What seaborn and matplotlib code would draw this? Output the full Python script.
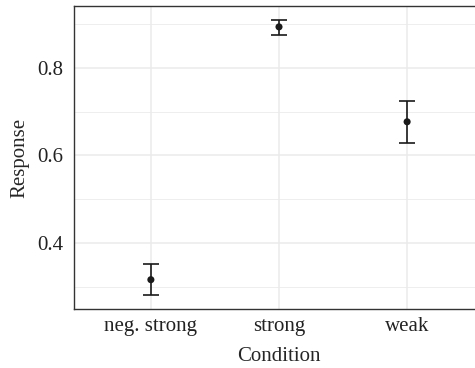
import numpy as np
import pandas as pd
import matplotlib
matplotlib.use("Agg")
import matplotlib.pyplot as plt
import seaborn as sns

# values
conditions = ["neg. strong", "strong", "weak"]
response = [0.316, 0.894, 0.677]
lower = [0.282, 0.876, 0.629]
upper = [0.351, 0.910, 0.725]

df = pd.DataFrame({"Condition": conditions, "Response": response,
                   "lo": lower, "hi": upper})

sns.set_style("white")
plt.rcParams["font.family"] = ["Liberation Serif", "DejaVu Serif"]

fig = plt.figure(figsize=(4.75, 3.68), dpi=100)
ax = fig.add_axes([74 / 475, 1 - 309 / 368, 410 / 475, 303 / 368])

# grid
ax.set_axisbelow(True)
ax.grid(which="major", color="#EBEBEB", linewidth=1.1)
ax.grid(which="minor", axis="y", color="#EBEBEB", linewidth=0.6)

xpos = np.arange(len(conditions))
yerr = [df["Response"] - df["lo"], df["hi"] - df["Response"]]
ax.errorbar(xpos, df["Response"], yerr=yerr, fmt="none", ecolor="#1a1a1a",
            elinewidth=1.2, capsize=6, capthick=1.2, zorder=3)
sns.scatterplot(data=df, x="Condition", y="Response", color="#1a1a1a",
                s=26, edgecolor="none", ax=ax, zorder=4)

ax.set_xlim(-0.6, 2.6)
ax.set_ylim(0.249, 0.9417)
ax.set_yticks([0.4, 0.6, 0.8])
ax.set_yticklabels(["0.4", "0.6", "0.8"])
ax.set_yticks([0.3, 0.5, 0.7, 0.9], minor=True)
ax.set_xticks(xpos)
ax.set_xticklabels(conditions)

ax.tick_params(axis="both", which="major", length=3.5, width=0.8,
               color="#333333", labelsize=15, labelcolor="#222222")
ax.tick_params(axis="y", which="major", pad=4.5)
ax.tick_params(axis="x", which="major", pad=2)
ax.tick_params(axis="y", which="minor", length=0)
for s in ax.spines.values():
    s.set_color("#333333")
    s.set_linewidth(1.0)

ax.set_xlabel("Condition", fontsize=15, labelpad=8)
ax.set_ylabel("Response", fontsize=15, labelpad=5)

fig.savefig("out.png", dpi=100)
